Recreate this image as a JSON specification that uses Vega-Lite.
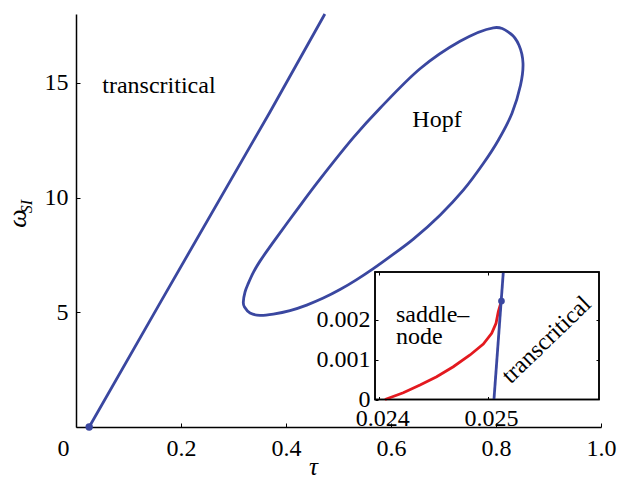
{
  "$schema": "https://vega.github.io/schema/vega-lite/v6.json",
  "width": 525,
  "height": 413,
  "autosize": "none",
  "padding": {"left": 76, "top": 14, "right": 18, "bottom": 55},
  "config": {
    "view": {"stroke": null},
    "font": "Liberation Serif",
    "text": {"font": "Liberation Serif"},
    "axis": {
      "grid": false,
      "domainColor": "black",
      "domainWidth": 1.5,
      "tickColor": "black",
      "tickWidth": 1,
      "labelColor": "black",
      "titleColor": "black",
      "labelFont": "Liberation Serif",
      "titleFont": "Liberation Serif",
      "labelFontSize": 24,
      "labelFontWeight": "normal",
      "titleFontWeight": "normal",
      "labelFlush": false,
      "labelOverlap": false,
      "labelBound": false
    }
  },
  "datasets": {
    "trans": [
      {"tau": 0.0251, "omega": 0, "i": 0},
      {"tau": 0.1632, "omega": 5.531, "i": 1},
      {"tau": 0.3695, "omega": 13.73, "i": 2},
      {"tau": 0.474, "omega": 18.0, "i": 3}
    ],
    "hopf": [
      {"tau": 0.31867, "omega": 5.444, "i": 0},
      {"tau": 0.3219, "omega": 5.88, "i": 1},
      {"tau": 0.32819, "omega": 6.259, "i": 2},
      {"tau": 0.3381, "omega": 6.751, "i": 3},
      {"tau": 0.35048, "omega": 7.23, "i": 4},
      {"tau": 0.37581, "omega": 8.057, "i": 5},
      {"tau": 0.42038, "omega": 9.451, "i": 6},
      {"tau": 0.46476, "omega": 10.801, "i": 7},
      {"tau": 0.52819, "omega": 12.609, "i": 8},
      {"tau": 0.57905, "omega": 13.894, "i": 9},
      {"tau": 0.65524, "omega": 15.614, "i": 10},
      {"tau": 0.73143, "omega": 16.812, "i": 11},
      {"tau": 0.79486, "omega": 17.4, "i": 12},
      {"tau": 0.82667, "omega": 17.16, "i": 13},
      {"tau": 0.84381, "omega": 16.638, "i": 14},
      {"tau": 0.85143, "omega": 15.854, "i": 15},
      {"tau": 0.84667, "omega": 14.895, "i": 16},
      {"tau": 0.83048, "omega": 13.676, "i": 17},
      {"tau": 0.80438, "omega": 12.5, "i": 18},
      {"tau": 0.77581, "omega": 11.485, "i": 19},
      {"tau": 0.73771, "omega": 10.322, "i": 20},
      {"tau": 0.69333, "omega": 9.233, "i": 21},
      {"tau": 0.64248, "omega": 8.188, "i": 22},
      {"tau": 0.5981, "omega": 7.426, "i": 23},
      {"tau": 0.56629, "omega": 6.903, "i": 24},
      {"tau": 0.53467, "omega": 6.424, "i": 25},
      {"tau": 0.50286, "omega": 5.989, "i": 26},
      {"tau": 0.47105, "omega": 5.618, "i": 27},
      {"tau": 0.43943, "omega": 5.314, "i": 28},
      {"tau": 0.40762, "omega": 5.074, "i": 29},
      {"tau": 0.37581, "omega": 4.922, "i": 30},
      {"tau": 0.35048, "omega": 4.865, "i": 31},
      {"tau": 0.33143, "omega": 4.965, "i": 32},
      {"tau": 0.32095, "omega": 5.226, "i": 33}
    ],
    "maindot": [{"tau": 0.0251, "omega": 0}],
    "mainlabels": [
      {"tau": 0.158, "omega": 14.85, "label": "transcritical"},
      {"tau": 0.6876, "omega": 13.37, "label": "Hopf"}
    ],
    "box": [{"x1": 0.02396, "x2": 0.02602, "y1": 0, "y2": 0.0032}],
    "sn": [
      {"tau": 0.024052, "w": 0, "i": 0},
      {"tau": 0.02422, "w": 0.000171, "i": 1},
      {"tau": 0.024374, "w": 0.000364, "i": 2},
      {"tau": 0.024527, "w": 0.000572, "i": 3},
      {"tau": 0.02468, "w": 0.000823, "i": 4},
      {"tau": 0.024834, "w": 0.001117, "i": 5},
      {"tau": 0.024956, "w": 0.001393, "i": 6},
      {"tau": 0.025033, "w": 0.001662, "i": 7},
      {"tau": 0.025073, "w": 0.001913, "i": 8},
      {"tau": 0.025094, "w": 0.002204, "i": 9},
      {"tau": 0.025123, "w": 0.002472, "i": 10}
    ],
    "tc": [
      {"tau": 0.025054, "w": 0, "i": 0},
      {"tau": 0.02514, "w": 0.0032, "i": 1}
    ],
    "insetdot": [{"tau": 0.025123, "w": 0.002472}],
    "insetsn": [{"tau": 0.024153, "w": 0.00212, "label": ["saddle–", "node"]}],
    "insettc": [{"tau": 0.025539, "w": 0.001493, "label": "transcritical"}]
  },
  "layer": [
    {
      "layer": [
        {
          "data": {"name": "trans"},
          "mark": {"type": "line", "color": "#3a47a0", "strokeWidth": 2.8},
          "encoding": {
            "x": {
              "field": "tau", "type": "quantitative",
              "scale": {"domain": [0, 1], "nice": false, "zero": false},
              "axis": {
                "orient": "bottom",
                "values": [0, 0.2, 0.4, 0.6, 0.8, 1.0],
                "labelExpr": "datum.value == 0 ? '0' : format(datum.value, '.1f')",
                "tickSize": -4,
                "labelPadding": 13,
                "labelOffset": {"condition": {"test": "datum.value == 0", "value": -13}, "value": 0},
                "title": "τ",
                "titleFontStyle": "italic",
                "titleFontSize": 25,
                "titleX": 237,
                "titleY": 39,
                "titleAlign": "center",
                "titleBaseline": "middle",
                "titleAngle": 0
              }
            },
            "y": {
              "field": "omega", "type": "quantitative",
              "scale": {"domain": [0, 18], "nice": false, "zero": false},
              "axis": {
                "orient": "left",
                "values": [5, 10, 15],
                "tickSize": -4,
                "labelPadding": 12,
                "title": "ω",
                "titleFontStyle": "italic",
                "titleFontSize": 26,
                "titleAngle": -90,
                "titleX": -59,
                "titleY": 204,
                "titleAlign": "center",
                "titleBaseline": "middle"
              }
            },
            "order": {"field": "i"}
          }
        },
        {
          "data": {"name": "hopf"},
          "mark": {"type": "line", "color": "#3a47a0", "strokeWidth": 2.8, "interpolate": "cardinal-closed"},
          "encoding": {
            "x": {"field": "tau", "type": "quantitative"},
            "y": {"field": "omega", "type": "quantitative"},
            "order": {"field": "i"}
          }
        },
        {
          "data": {"name": "maindot"},
          "mark": {"type": "point", "filled": true, "size": 55, "color": "#3a47a0", "opacity": 1},
          "encoding": {
            "x": {"field": "tau", "type": "quantitative"},
            "y": {"field": "omega", "type": "quantitative"}
          }
        },
        {
          "data": {"name": "mainlabels"},
          "mark": {"type": "text", "fontSize": 24, "font": "Liberation Serif", "align": "center", "baseline": "middle", "color": "black"},
          "encoding": {
            "x": {"field": "tau", "type": "quantitative"},
            "y": {"field": "omega", "type": "quantitative"},
            "text": {"field": "label"}
          }
        }
      ]
    },
    {
      "layer": [
        {
          "data": {"name": "box"},
          "mark": {"type": "rect", "fill": "white", "stroke": "black", "strokeWidth": 1.5},
          "encoding": {
            "x": {
              "field": "x1", "type": "quantitative",
              "scale": {"domain": [0.02396, 0.02602], "range": [299, 523], "nice": false, "zero": false},
              "axis": {
                "orient": "bottom",
                "offset": -27.5,
                "values": [0.024, 0.025],
                "format": ".3f",
                "domain": false,
                "tickSize": -3,
                "labelPadding": 10,
                "labelOffset": 3,
                "zindex": 1,
                "title": null
              }
            },
            "x2": {"field": "x2"},
            "y": {
              "field": "y1", "type": "quantitative",
              "scale": {"domain": [0, 0.0032], "range": [385.5, 258], "nice": false, "zero": false},
              "axis": {
                "orient": "left",
                "offset": -299,
                "values": [0, 0.001, 0.002],
                "labelExpr": "datum.value == 0 ? '0' : format(datum.value, '.3f')",
                "domain": false,
                "tickSize": -3,
                "labelPadding": 8,
                "zindex": 1,
                "title": "SI",
                "titleFontStyle": "italic",
                "titleFontSize": 16,
                "titleAngle": -90,
                "titleX": -349,
                "titleY": 192,
                "titleAlign": "center",
                "titleBaseline": "middle"
              }
            },
            "y2": {"field": "y2"}
          }
        },
        {
          "data": {"name": "sn"},
          "mark": {"type": "line", "color": "#e3191f", "strokeWidth": 2.8},
          "encoding": {
            "x": {"field": "tau", "type": "quantitative"},
            "y": {"field": "w", "type": "quantitative"},
            "order": {"field": "i"}
          }
        },
        {
          "data": {"name": "tc"},
          "mark": {"type": "line", "color": "#3a47a0", "strokeWidth": 2.8},
          "encoding": {
            "x": {"field": "tau", "type": "quantitative"},
            "y": {"field": "w", "type": "quantitative"},
            "order": {"field": "i"}
          }
        },
        {
          "data": {"name": "insetdot"},
          "mark": {"type": "point", "filled": true, "size": 45, "color": "#3a47a0", "opacity": 1},
          "encoding": {
            "x": {"field": "tau", "type": "quantitative"},
            "y": {"field": "w", "type": "quantitative"}
          }
        },
        {
          "data": {"name": "insetsn"},
          "mark": {"type": "text", "fontSize": 24, "font": "Liberation Serif", "align": "left", "baseline": "middle", "lineHeight": 22, "color": "black"},
          "encoding": {
            "x": {"field": "tau", "type": "quantitative"},
            "y": {"field": "w", "type": "quantitative"},
            "text": {"field": "label"}
          }
        },
        {
          "data": {"name": "insettc"},
          "mark": {"type": "text", "fontSize": 24, "font": "Liberation Serif", "align": "center", "baseline": "middle", "angle": 316, "color": "black"},
          "encoding": {
            "x": {"field": "tau", "type": "quantitative"},
            "y": {"field": "w", "type": "quantitative"},
            "text": {"field": "label"}
          }
        }
      ]
    },
    {
      "data": {"name": "box"},
      "mark": {"type": "rect", "fill": null, "stroke": "black", "strokeWidth": 1.5},
      "encoding": {
        "x": {
          "field": "x1", "type": "quantitative",
          "scale": {"domain": [0.02396, 0.02602], "range": [299, 523], "nice": false, "zero": false},
          "axis": {
            "orient": "top",
            "offset": -258,
            "values": [0.024, 0.025],
            "labels": false,
            "domain": false,
            "tickSize": -3,
            "zindex": 1,
            "title": null
          }
        },
        "x2": {"field": "x2"},
        "y": {
          "field": "y1", "type": "quantitative",
          "scale": {"domain": [0, 0.0032], "range": [385.5, 258], "nice": false, "zero": false},
          "axis": {
            "orient": "right",
            "offset": -2,
            "values": [0.001, 0.002],
            "labels": false,
            "domain": false,
            "tickSize": -3,
            "zindex": 1,
            "title": null
          }
        },
        "y2": {"field": "y2"}
      }
    }
  ],
  "resolve": {
    "scale": {"x": "independent", "y": "independent"},
    "axis": {"x": "independent", "y": "independent"}
  }
}
